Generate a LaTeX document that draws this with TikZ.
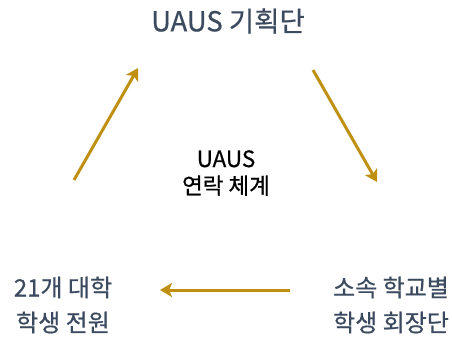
\documentclass[tikz,border=0pt]{standalone}
\usepackage{fontspec}
\setmainfont{Noto Sans CJK KR}[FakeBold=0.6,AutoFakeBold=0.6]
\usetikzlibrary{arrows.meta}
\definecolor{slate}{HTML}{3B4A5E}
\definecolor{gold}{HTML}{BF9010}
\begin{document}
\begin{tikzpicture}[x=1pt,y=-1pt,
  lbl/.style={text=slate,align=center,inner sep=0pt},
  mid/.style={text=black,font=\fontsize{22.5}{27}\selectfont,align=center,inner sep=0pt},
  arr/.style={draw=gold,line width=3pt,-{Stealth[length=12pt,width=14pt,inset=3pt]}}]
\useasboundingbox (0,0) rectangle (452,337);
\node[lbl,font=\fontsize{27.5}{34}\selectfont] (top) at (228,21) {UAUS 기획단};
\node[mid] (c) at (226,173) {UAUS\\연락 체계};
\node[lbl,font=\fontsize{24}{35}\selectfont] (bl) at (63,305) {21개 대학\\학생 전원};
\node[lbl,font=\fontsize{24}{35}\selectfont] (br) at (391,305) {소속 학교별\\학생 회장단};
\coordinate (a1s) at (74,180);
\coordinate (a1e) at (138,68);
\coordinate (a2s) at (313,70);
\coordinate (a2e) at (377,182);
\coordinate (a3s) at (290,290);
\coordinate (a3e) at (160,290);
\draw[arr] (a1s) -- (a1e);
\draw[arr] (a2s) -- (a2e);
\draw[arr] (a3s) -- (a3e);
\end{tikzpicture}
\end{document}
